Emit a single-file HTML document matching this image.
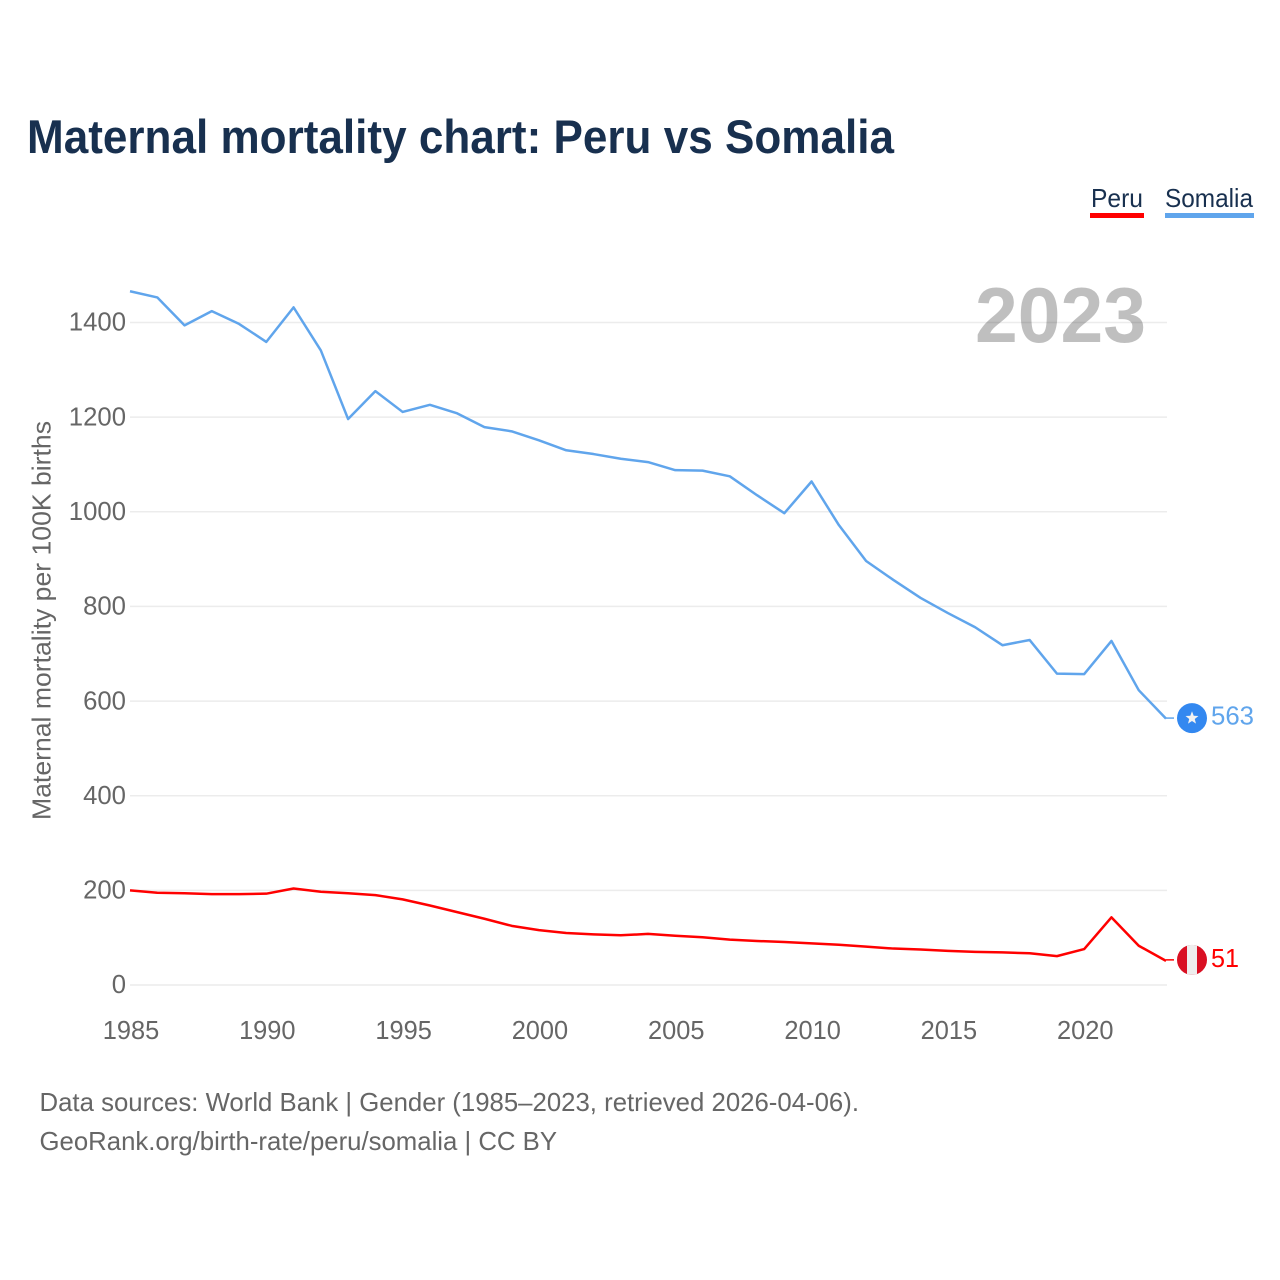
<!DOCTYPE html>
<html lang="en">
<head>
<meta charset="utf-8">
<title>Maternal mortality chart: Peru vs Somalia</title>
<style>
html,body{margin:0;padding:0;background:#fff;}
svg{display:block;font-family:"Liberation Sans",sans-serif;}
</style>
</head>
<body>
<svg id="chart" width="1280" height="1280" viewBox="0 0 1280 1280" xmlns="http://www.w3.org/2000/svg">
  <rect width="1280" height="1280" fill="#ffffff"/>
  <text x="27" y="153" font-size="47" font-weight="700" fill="#18304f" textLength="867" lengthAdjust="spacingAndGlyphs">Maternal mortality chart: Peru vs Somalia</text>
  <g id="legend">
    <g>
      <text x="1091" y="207" font-size="26" fill="#18304f" textLength="52" lengthAdjust="spacingAndGlyphs">Peru</text>
      <rect x="1090" y="213" width="54" height="5" fill="#ff0000"/>
    </g>
    <g>
      <text x="1165" y="207" font-size="26" fill="#18304f" textLength="88" lengthAdjust="spacingAndGlyphs">Somalia</text>
      <rect x="1165" y="213" width="89" height="5" fill="#60a5ec"/>
    </g>
  </g>
  <g id="grid"></g>
  <text x="975" y="342" font-size="78" font-weight="700" fill="#000000" fill-opacity="0.25" textLength="171" lengthAdjust="spacingAndGlyphs">2023</text>
  <g id="yticks"></g>
  <g id="xticks"></g>
  <text transform="translate(50.5,620.5) rotate(-90)" text-anchor="middle" font-size="26" fill="#666666" textLength="399" lengthAdjust="spacingAndGlyphs">Maternal mortality per 100K births</text>
  <g id="series"></g>
  <g id="endmarks"></g>
  <text x="39.5" y="1111" font-size="26" fill="#666666" textLength="819.5" lengthAdjust="spacingAndGlyphs">Data sources: World Bank | Gender (1985–2023, retrieved 2026-04-06).</text>
  <text x="39.5" y="1150" font-size="26" fill="#666666" textLength="517.5" lengthAdjust="spacingAndGlyphs">GeoRank.org/birth-rate/peru/somalia | CC BY</text>
</svg>
<script>
const years = [1985,1986,1987,1988,1989,1990,1991,1992,1993,1994,1995,1996,1997,1998,1999,2000,2001,2002,2003,2004,2005,2006,2007,2008,2009,2010,2011,2012,2013,2014,2015,2016,2017,2018,2019,2020,2021,2022,2023];
const somaliaValues = [1466,1453,1394,1424,1397,1359,1432,1341,1196,1255,1211,1226,1208,1179,1170,1151,1130,1122,1112,1105,1088,1087,1075,1035,997,1064,972,896,856,818,786,756,718,729,658,657,727,623,563];
const peruValues = [200,195,194,192,192,193,204,197,194,190,181,168,154,140,125,116,110,107,105,108,104,101,96,93,91,88,85,81,77,75,72,70,69,67,61,76,143,83,51];
const yTicks = [0,200,400,600,800,1000,1200,1400];
const xTicks = [1985,1990,1995,2000,2005,2010,2015,2020];

const NS = 'http://www.w3.org/2000/svg';
function xScale(year){ return 130 + (year - 1985) * (1166 - 130) / (2023 - 1985); }
function yScale(v){ return 985 - v * (985 - 322.5) / 1400; }
function make(tag, attrs, parent){
  const el = document.createElementNS(NS, tag);
  for (const k in attrs) el.setAttribute(k, attrs[k]);
  parent.appendChild(el);
  return el;
}

const grid = document.getElementById('grid');
const yG = document.getElementById('yticks');
yTicks.forEach(function(t){
  const line = make('line', {x1:130, x2:1167, y1:yScale(t), y2:yScale(t), stroke:'#ececec', 'stroke-width':1.5}, grid);
  
  
  const label = make('text', {x:126, y:yScale(t) + 8.2, 'text-anchor':'end', 'font-size':26, fill:'#666666', textLength:String(t).length * 14.3, lengthAdjust:'spacingAndGlyphs'}, yG);
  
  
  label.textContent = t;
});

const xG = document.getElementById('xticks');
xTicks.forEach(function(t){
  const label = make('text', {x:xScale(t) + 1, y:1039, 'text-anchor':'middle', 'font-size':26, fill:'#666666', textLength:56.5, lengthAdjust:'spacingAndGlyphs'}, xG);
  
  
  label.textContent = t;
});

function points(values){
  return values.map(function(v, i){ return xScale(years[i]).toFixed(2) + ',' + yScale(v).toFixed(2); }).join(' ');
}
const seriesG = document.getElementById('series');
const peruLine = make('polyline', {points:points(peruValues), fill:'none', stroke:'#ff0000', 'stroke-width':2.5, 'stroke-linejoin':'round'}, seriesG);


const somaliaLine = make('polyline', {points:points(somaliaValues), fill:'none', stroke:'#60a5ec', 'stroke-width':2.5, 'stroke-linejoin':'round'}, seriesG);



const endG = document.getElementById('endmarks');
const cx = 1192;

// Somalia end marker
const sv = somaliaValues[somaliaValues.length - 1];
const sy = yScale(sv);
const sConn = make('line', {x1:1166, x2:1174, y1:sy - 0.5, y2:sy - 0.5, stroke:'#60a5ec', 'stroke-width':1.5}, endG);


const sFlag = make('circle', {cx:cx, cy:sy - 0.5, r:15, fill:'#3388f0'}, endG);


let starPts = [];
for (let i = 0; i < 10; i++) {
  const r = i % 2 ? 2.9 : 6.8;
  const a = -Math.PI / 2 + i * Math.PI / 5;
  starPts.push((cx + r * Math.cos(a)).toFixed(2) + ',' + (sy - 0.5 + r * Math.sin(a)).toFixed(2));
}
const star = make('polygon', {points:starPts.join(' '), fill:'#f2f2f2'}, endG);


const sLabel = make('text', {x:1211, y:sy + 6, 'font-size':26, fill:'#60a5ec', textLength:43, lengthAdjust:'spacingAndGlyphs'}, endG);


sLabel.textContent = sv;

// Peru end marker
const pv = peruValues[peruValues.length - 1];
const py = yScale(pv) - 1;
const pConn = make('line', {x1:1166, x2:1174, y1:py, y2:py, stroke:'#ff0000', 'stroke-width':1.5}, endG);


const clip = make('clipPath', {id:'peru-clip'}, endG);
make('circle', {cx:cx, cy:py, r:15}, clip);
const pFlag = make('g', {'clip-path':'url(#peru-clip)'}, endG);


make('rect', {x:cx - 15, y:py - 15, width:30, height:30, fill:'#d91023'}, pFlag);
make('rect', {x:cx - 5, y:py - 15, width:10, height:30, fill:'#eeeeee'}, pFlag);
const pLabel = make('text', {x:1211, y:py + 7, 'font-size':26, fill:'#ff0000', textLength:28, lengthAdjust:'spacingAndGlyphs'}, endG);


pLabel.textContent = pv;
</script>
</body>
</html>
